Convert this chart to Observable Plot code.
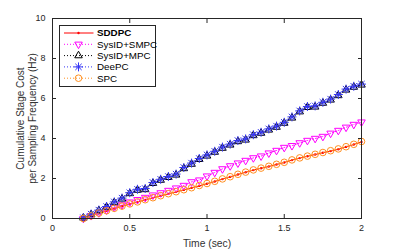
<!DOCTYPE html>
<html><head><meta charset="utf-8">
<script src="https://cdn.jsdelivr.net/npm/d3@7"></script>
<script src="https://cdn.jsdelivr.net/npm/@observablehq/plot@0.6"></script>
<style>
body{margin:0;background:#fff;}
#chart svg{font-family:"Liberation Sans",Arial,Helvetica,sans-serif;}
</style>
</head><body><div id="chart"></div>
<script>
const time = [0.2,0.25,0.3,0.35,0.4,0.45,0.5,0.55,0.6,0.65,0.7,0.75,0.8,0.85,0.9,0.95,1.0,1.05,1.1,1.15,1.2,1.25,1.3,1.35,1.4,1.45,1.5,1.55,1.6,1.65,1.7,1.75,1.8,1.85,1.9,1.95,2.0];
const sddpc = [0.00,0.13,0.26,0.38,0.50,0.61,0.72,0.82,0.93,1.03,1.13,1.23,1.33,1.43,1.53,1.63,1.74,1.85,1.97,2.08,2.20,2.31,2.42,2.51,2.60,2.70,2.80,2.92,3.02,3.11,3.20,3.29,3.37,3.46,3.58,3.70,3.83];
const sysidSmpc = [0.00,0.14,0.28,0.42,0.56,0.68,0.82,0.94,1.05,1.17,1.28,1.40,1.52,1.65,1.83,1.92,2.12,2.30,2.48,2.63,2.77,2.90,3.03,3.12,3.27,3.40,3.55,3.64,3.78,3.90,4.00,4.10,4.26,4.40,4.56,4.70,4.82];
const sysidMpc = [0.03,0.20,0.40,0.57,0.80,0.98,1.25,1.42,1.45,1.76,1.92,2.06,2.18,2.50,2.72,2.96,3.13,3.32,3.52,3.68,3.85,3.93,4.15,4.27,4.43,4.57,4.77,5.03,5.34,5.56,5.58,5.77,5.93,6.15,6.43,6.57,6.68];
const deepc = [0.04,0.22,0.42,0.60,0.83,1.02,1.29,1.46,1.50,1.80,1.96,2.10,2.22,2.55,2.77,3.00,3.18,3.36,3.57,3.72,3.90,3.98,4.19,4.31,4.48,4.62,4.81,5.08,5.38,5.60,5.63,5.81,5.97,6.20,6.47,6.61,6.72];
const spc = [0.00,0.13,0.27,0.39,0.51,0.62,0.73,0.83,0.94,1.04,1.14,1.24,1.34,1.44,1.54,1.65,1.75,1.86,1.98,2.09,2.21,2.32,2.43,2.52,2.61,2.71,2.81,2.93,3.03,3.12,3.21,3.30,3.39,3.48,3.59,3.71,3.85];
const seriesNames = ["SDDPC","SysID+SMPC","SysID+MPC","DeePC","SPC"];
const xTicks = [0,0.5,1,1.5,2];
const yTicks = [0,2,4,6,8,10];
const xLabel = "Time (sec)";
const yLabel = "Cumulative Stage Cost\nper Sampling Frequency (Hz)";

const colors = {"SDDPC":"#ff0000","SysID+SMPC":"#ff00ff","SysID+MPC":"#000000","DeePC":"#3535f5","SPC":"#ff9020"};
const rows = (name, vals) => time.map((t,i)=>({t, v: vals[i], name}));
const dSDDPC = rows("SDDPC", sddpc);
const dSMPC = rows("SysID+SMPC", sysidSmpc);
const dMPC = rows("SysID+MPC", sysidMpc);
const dDeePC = rows("DeePC", deepc);
const dSPC = rows("SPC", spc);
const axisColor = "#262626";
const dots = "1,2";
const rTri = 2.8, rStar = 3, rCirc = 3.3;

const plot = Plot.plot({
  width: 399, height: 249,
  marginLeft: 52, marginRight: 38, marginTop: 18, marginBottom: 31,
  style: {fontFamily: '"Liberation Sans",Arial,sans-serif', fontSize: "9px", fontWeight: "normal", color: axisColor, background: "#fff", overflow: "visible"},
  x: {domain: [0, 2]},
  y: {domain: [0, 10]},
  marks: [
    Plot.line(dSDDPC, {x: "t", y: "v", stroke: colors["SDDPC"], strokeWidth: 1}),
    Plot.dot(dSDDPC, {x: "t", y: "v", r: 1.2, fill: colors["SDDPC"], stroke: "none"}),
    Plot.line(dSMPC, {x: "t", y: "v", stroke: colors["SysID+SMPC"], strokeWidth: 1, strokeDasharray: dots}),
    Plot.dot(dSMPC, {x: "t", y: "v", symbol: "triangle", rotate: 180, r: rTri, fill: "none", stroke: colors["SysID+SMPC"], strokeWidth: 1}),
    Plot.line(dMPC, {x: "t", y: "v", stroke: colors["SysID+MPC"], strokeWidth: 1, strokeDasharray: dots}),
    Plot.dot(dMPC, {x: "t", y: "v", symbol: "triangle", r: rTri, fill: "none", stroke: colors["SysID+MPC"], strokeWidth: 1}),
    Plot.line(dDeePC, {x: "t", y: "v", stroke: colors["DeePC"], strokeWidth: 1, strokeDasharray: dots}),
    Plot.dot(dDeePC, {x: "t", y: "v", symbol: "plus", r: rStar, fill: "none", stroke: colors["DeePC"], strokeWidth: 1}),
    Plot.dot(dDeePC, {x: "t", y: "v", symbol: "times", r: rStar, fill: "none", stroke: colors["DeePC"], strokeWidth: 1}),
    Plot.line(dSPC, {x: "t", y: "v", stroke: colors["SPC"], strokeWidth: 1, strokeDasharray: dots}),
    Plot.dot(dSPC, {x: "t", y: "v", symbol: "circle", r: rCirc, fill: "none", stroke: colors["SPC"], strokeWidth: 1}),
    Plot.frame({stroke: axisColor, strokeWidth: 1}),
    Plot.axisX(xTicks, {anchor: "bottom", tickSize: -4, tickPadding: 10, tickFormat: d => String(d), label: null, stroke: axisColor}),
    Plot.axisX(xTicks, {anchor: "top", tickSize: -4, tickFormat: () => "", label: null, stroke: axisColor}),
    Plot.axisY(yTicks, {anchor: "left", tickSize: -4, tickPadding: 11, tickFormat: d => String(d), label: null, stroke: axisColor}),
    Plot.axisY(yTicks, {anchor: "right", tickSize: -4, tickFormat: () => "", label: null, stroke: axisColor}),
    Plot.text([xLabel], {frameAnchor: "bottom", dy: 25, text: d => d, fontSize: 10.3, fontWeight: "normal", fill: "#333", lineAnchor: "middle"}),
    Plot.text([yLabel], {frameAnchor: "left", dx: -26, text: d => d, rotate: -90, fontSize: 10, fontWeight: "normal", fill: "#333", lineAnchor: "middle", textAnchor: "middle", lineHeight: 1.15})
  ]
});
document.getElementById("chart").appendChild(plot);

// Legend
const svg = d3.select(plot);
const lg = svg.append("g").attr("transform", "translate(59.5,25.5)");
lg.append("rect").attr("width", 96).attr("height", 61).attr("fill", "#fff").attr("stroke", axisColor).attr("stroke-width", 1);
const rowY = [7.5, 18.8, 30.1, 41.4, 52.7];
const symPath = (type, r) => d3.symbol(type, Math.PI * r * r)();
seriesNames.forEach((name, i) => {
  const g = lg.append("g").attr("transform", `translate(0,${rowY[i]})`);
  const c = colors[name];
  g.append("line").attr("x1", 4.5).attr("x2", 34).attr("y1", 0).attr("y2", 0)
    .attr("stroke", c).attr("stroke-width", 1).attr("stroke-dasharray", name === "SDDPC" ? null : dots);
  const mg = g.append("g").attr("transform", "translate(19,0)");
  if (name === "SDDPC") mg.append("circle").attr("r", 1.2).attr("fill", c);
  else if (name === "SysID+SMPC") mg.append("path").attr("d", symPath(d3.symbolTriangle, rTri)).attr("transform","rotate(180)").attr("fill","none").attr("stroke",c);
  else if (name === "SysID+MPC") mg.append("path").attr("d", symPath(d3.symbolTriangle, rTri)).attr("fill","none").attr("stroke",c);
  else if (name === "DeePC") { mg.append("path").attr("d", symPath(d3.symbolPlus, rStar)).attr("fill","none").attr("stroke",c); mg.append("path").attr("d", symPath(d3.symbolTimes, rStar)).attr("fill","none").attr("stroke",c); }
  else mg.append("circle").attr("r", rCirc).attr("fill","none").attr("stroke", c);
  g.append("text").attr("x", 37.5).attr("y", 0).attr("dy", "0.35em").attr("font-size", 9.8).attr("fill", "#000")
    .attr("text-anchor", "start")
    .attr("font-weight", name === "SDDPC" ? "bold" : "normal").text(name);
});
</script>
</body></html>
